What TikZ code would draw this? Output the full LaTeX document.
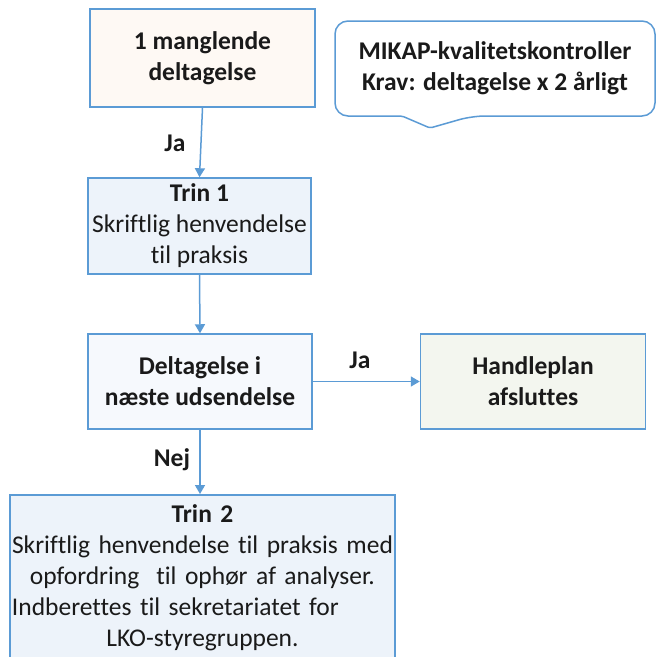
\documentclass[tikz,border=0pt]{standalone}
\usepackage{fontspec}
\setmainfont{Carlito}[Ligatures=NoCommon]
\usetikzlibrary{arrows.meta}
\definecolor{bord}{HTML}{5B9BD5}
\definecolor{txt}{HTML}{1A1A1A}
\definecolor{peach}{HTML}{FEF9F4}
\definecolor{lblue}{HTML}{EDF3FA}
\definecolor{vlblue}{HTML}{F6F9FD}
\definecolor{lgreen}{HTML}{F3F6EF}
\begin{document}
\begin{tikzpicture}[x=1pt,y=-1pt,
  box/.style={draw=bord, line width=1.5pt, align=center, text=txt, inner sep=1pt,
    font=\fontsize{25.5}{31}\selectfont},
  bbox/.style={box, font=\fontsize{25.5}{31}\selectfont\bfseries},
  lab/.style={text=txt, font=\fontsize{25.5}{31}\selectfont\bfseries, inner sep=0pt, align=center},
  conn/.style={draw=bord, line width=1.5pt, -{Triangle[length=9pt,width=10pt]}},
  outline/.style={draw=bord, line width=1.5pt, fill=white}]
\path[use as bounding box] (0,0) rectangle (657,657);
\clip (0,0) rectangle (657,657);
\fill[white] (0,0) rectangle (657,657);

% callout
\draw[outline] (380,116) [rounded corners=13pt] -- (335,116) -- (335,21) -- (655,21) -- (655,116) -- (472,116)
  [rounded corners=2pt] -- (430,128) -- (402,116) -- cycle;
\node[lab] (callt) at (495,68.5) {MIKAP-kvalitetskontroller\\Krav: deltagelse x 2 årligt};

% boxes
\node[bbox, fill=peach, minimum width=225pt, minimum height=98pt] (b1) at (202.5,58) {1 manglende\\deltagelse};
\node[box, fill=lblue, minimum width=223pt, minimum height=96pt] (t1) at (199.5,226)
  {\textbf{Trin 1}\\Skriftlig henvendelse\\til praksis};
\node[bbox, fill=vlblue, minimum width=224pt, minimum height=95pt] (d) at (200,381.5) {Deltagelse i\\næste udsendelse};
\node[bbox, fill=lgreen, minimum width=225pt, minimum height=95pt] (h) at (533,381.5) {Handleplan\\afsluttes};
\node[box, fill=lblue, text width=381pt, inner xsep=2pt, minimum height=166pt, anchor=north] (t2) at (202.5,494)
  {\textbf{Trin 2}\\Skriftlig henvendelse til praksis med\\opfordring\ \ til ophør af analyser.\\
   \makebox[381pt][l]{Indberettes til sekretariatet for}\\LKO-styregruppen.};

% connectors
\draw[conn] (b1.south) -- (t1.north);
\draw[conn] (t1.south) -- (d.north);
\draw[conn] (d.east) -- (h.west);
\draw[conn] (d.south) -- (d.south |- t2.north);

% labels
\node[lab] (ja1) at (175,143) {Ja};
\node[lab] (ja2) at (360,360) {Ja};
\node[lab] (nej) at (172,460) {Nej};
\end{tikzpicture}
\end{document}
